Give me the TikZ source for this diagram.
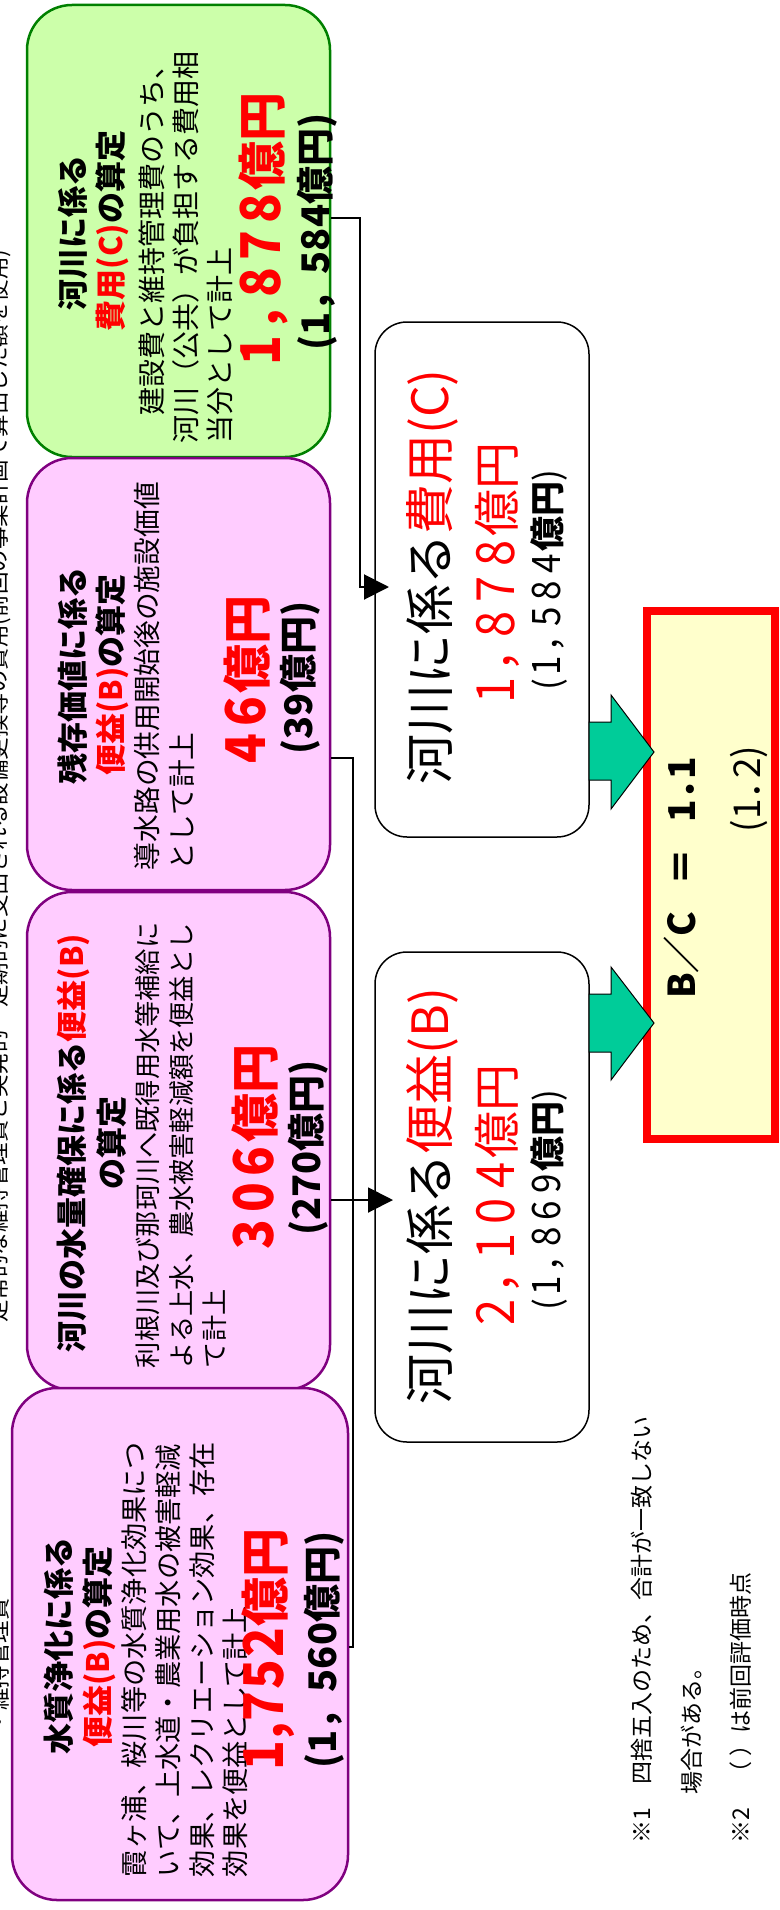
\documentclass[tikz,border=0pt]{standalone}
\usepackage{fontspec}
\setmainfont{Noto Sans CJK JP}
\usetikzlibrary{arrows.meta}
\definecolor{rd}{HTML}{FF0000}
\definecolor{gfill}{HTML}{CCFFAA}
\definecolor{gline}{HTML}{008000}
\definecolor{pfill}{HTML}{FFCCFF}
\definecolor{pline}{HTML}{800080}
\definecolor{bcfill}{HTML}{FFFFCC}
\definecolor{arrfill}{HTML}{00CC99}
\newcommand\fs[1]{\fontsize{#1}{#1}\selectfont}
\newcommand\dg[1]{\makebox[0.75em]{\scalebox{1}[1.12]{#1}}}
\newcommand\dgn[1]{\makebox[0.65em]{\scalebox{1}[1.12]{#1}}}
\newcommand\cm{\makebox[0.65em][l]{，}}
\newcommand\pd{\makebox[0.55em][l]{．}}
\newcommand\rt[1]{\textcolor{rd}{#1}}
\begin{document}
\begin{tikzpicture}[x=1pt,y=-1pt,
  tx/.style={rotate=90, inner sep=0pt, outer sep=0pt},
  hd/.style={tx, font=\fs{31}\bfseries},
  dsc/.style={tx, anchor=west, font=\fs{27}},
  bignum/.style={tx, font=\fs{49}\bfseries, text=rd},
  paren/.style={tx, font=\fs{38}\bfseries},
  gbox/.style={draw=gline, fill=gfill, line width=2.5pt, rounded corners=45pt},
  pbox/.style={draw=pline, fill=pfill, line width=2.5pt, rounded corners=45pt},
  wbox/.style={draw=black, fill=white, line width=1.5pt, rounded corners=32pt},
  conn/.style={draw=black, line width=2pt},
  arrowtip/.style={-{Triangle[length=25pt,width=25pt]}},
  garrow/.style={draw=black, line width=1pt, fill=arrfill, line join=miter},
  bcbox/.style={draw=rd, fill=bcfill, line width=8pt},
  ]
\useasboundingbox (0,0) rectangle (779,1910);
\fill[white] (0,0) rectangle (779,1910);

% boxes
\node[gbox, minimum width=303pt, minimum height=452pt] (green) at (178.5,231) {};
\node[pbox, minimum width=303pt, minimum height=432pt] (pink1) at (178.5,674) {};
\node[pbox, minimum width=303pt, minimum height=498pt] (pink2) at (178.5,1141) {};
\node[pbox, minimum width=336pt, minimum height=512pt] (pink3) at (180,1644) {};
\node[wbox, minimum width=214pt, minimum height=515pt] (cost) at (482,579.5) {};
\node[wbox, minimum width=214pt, minimum height=490pt] (bene) at (482,1197) {};
\node[bcbox, minimum width=128pt, minimum height=528pt] (bc) at (711,875) {};

% left cut texts
\node[tx, font=\fs{22.5}, anchor=west] (l1) at (-1,1345) {・定常的な維持管理費と突発的・定期的に支出される設備更換等の費用(前回の事業計画で算出した額を使用)};
\node[tx, font=\fs{22.5}, anchor=west] (l2) at (-1,1733) {・維持管理費};

% green box
\node[hd] (g1) at (73,233) {河川に係る};
\node[hd] (g2) at (112,231) {\rt{費用(C)}の算定};
\node[dsc, font=\fs{28}] (g3) at (152,443) {　建設費と維持管理費のうち、};
\node[dsc, font=\fs{28}] (g4) at (186,443) {河川（公共）が負担する費用相};
\node[dsc, font=\fs{28}] (g5) at (220,443) {当分として計上};
\node[bignum] (g6) at (263,231) {\dg1\cm\dg8\dg7\dg8億円};
\node[paren] (g7) at (317,232) {(1，584億円)};

% pink 1
\node[hd] (p1a) at (73,676) {残存価値に係る};
\node[hd] (p1b) at (112,675) {\rt{便益(B)}の算定};
\node[dsc, font=\fs{27.7}] (p1c) at (147,870) {導水路の供用開始後の施設価値};
\node[dsc, font=\fs{27.7}] (p1d) at (182,870) {として計上};
\node[bignum] (p1e) at (247,681) {\dg4\dg6億円};
\node[paren] (p1f) at (300,678) {(39億円)};

% pink 2
\node[hd] (p2a) at (73,1143) {河川の水量確保に係る\rt{便益(B)}};
\node[hd] (p2b) at (112,1143) {の算定};
\node[dsc, font=\fs{26.2}] (p2c) at (148,1368) {利根川及び那珂川へ既得用水等補給に};
\node[dsc, font=\fs{26.2}] (p2d) at (182,1368) {よる上水、農水被害軽減額を便益とし};
\node[dsc, font=\fs{26.2}] (p2e) at (215,1368) {て計上};
\node[bignum] (p2f) at (255,1149) {\dg3\dg0\dg6億円};
\node[paren] (p2g) at (308,1148) {(270億円)};

% pink 3
\node[hd] (p3a) at (59,1646) {水質浄化に係る};
\node[hd] (p3b) at (99,1647) {\rt{便益(B)}の算定};
\node[dsc, font=\fs{27.2}] (p3c) at (134,1877) {霞ヶ浦、桜川等の水質浄化効果につ};
\node[dsc, font=\fs{27.2}] (p3d) at (168,1877) {いて、上水道・農業用水の被害軽減};
\node[dsc, font=\fs{27.2}] (p3e) at (202,1877) {効果、レクリエーション効果、存在};
\node[dsc, font=\fs{27.2}] (p3f) at (235,1877) {効果を便益として計上};
\node[bignum] (p3g) at (268,1650) {\dgn1,\dgn7\dgn5\dgn2億円};
\node[paren] (p3h) at (324,1650) {(1，560億円)};

% cost box
\node[tx, font=\fs{50}] (c1) at (432,577) {河川に係る\rt{費用(C)}};
\node[tx, font=\fs{47}, text=rd] (c2) at (497,575) {\dg1\cm\dg8\dg7\dg8億円};
\node[tx, font=\fs{35}] (c3) at (549,580) {(\dg1\cm\dg5\dg8\dg4\textbf{億円})};

% benefit box
\node[tx, font=\fs{50}] (b1) at (432,1196) {河川に係る\rt{便益(B)}};
\node[tx, font=\fs{47}, text=rd] (b2) at (497,1197) {\dg2\cm\dg1\dg0\dg4億円};
\node[tx, font=\fs{35}] (b3) at (549,1200) {(\dg1\cm\dg8\dg6\dg9\textbf{億円})};

% B/C
\node[tx, font=\fs{37}\bfseries] (bc1) at (681,878) {B／C\hspace{0.7em}＝\hspace{0.7em}1\pd 1};
\node[tx, font=\fs{37}] (bc2) at (749,789) {(1\pd 2)};

% footnotes
\node[dsc, font=\fs{23}] (f1) at (642,1843) {※1　四捨五入のため、合計が一致しない};
\node[dsc, font=\fs{23}] (f2) at (692,1794) {場合がある。};
\node[dsc, font=\fs{23}] (f3) at (741,1843) {※2　（ ）は前回評価時点};

% connectors
\coordinate (ja) at (360,218);
\coordinate (ta) at (389,587);
\draw[conn, arrowtip] (green.east |- ja) -- (ja) |- (ta);
\coordinate (jb) at (353,758);
\coordinate (jc) at (353,1647);
\draw[conn] (pink1.east |- jb) -- (jb) -- (jc) -- (pink3.east |- jc);
\coordinate (tb) at (393,1200);
\draw[conn, arrowtip] (pink2.east |- tb) -- (tb);

% block arrows
\draw[garrow] (589,722) -- (611,722) -- (611,695) -- (654,752) -- (611,809) -- (611,780) -- (589,780) -- cycle;
\draw[garrow] (589,994) -- (611,994) -- (611,967) -- (654,1023) -- (611,1080) -- (611,1052) -- (589,1052) -- cycle;
\end{tikzpicture}
\end{document}
